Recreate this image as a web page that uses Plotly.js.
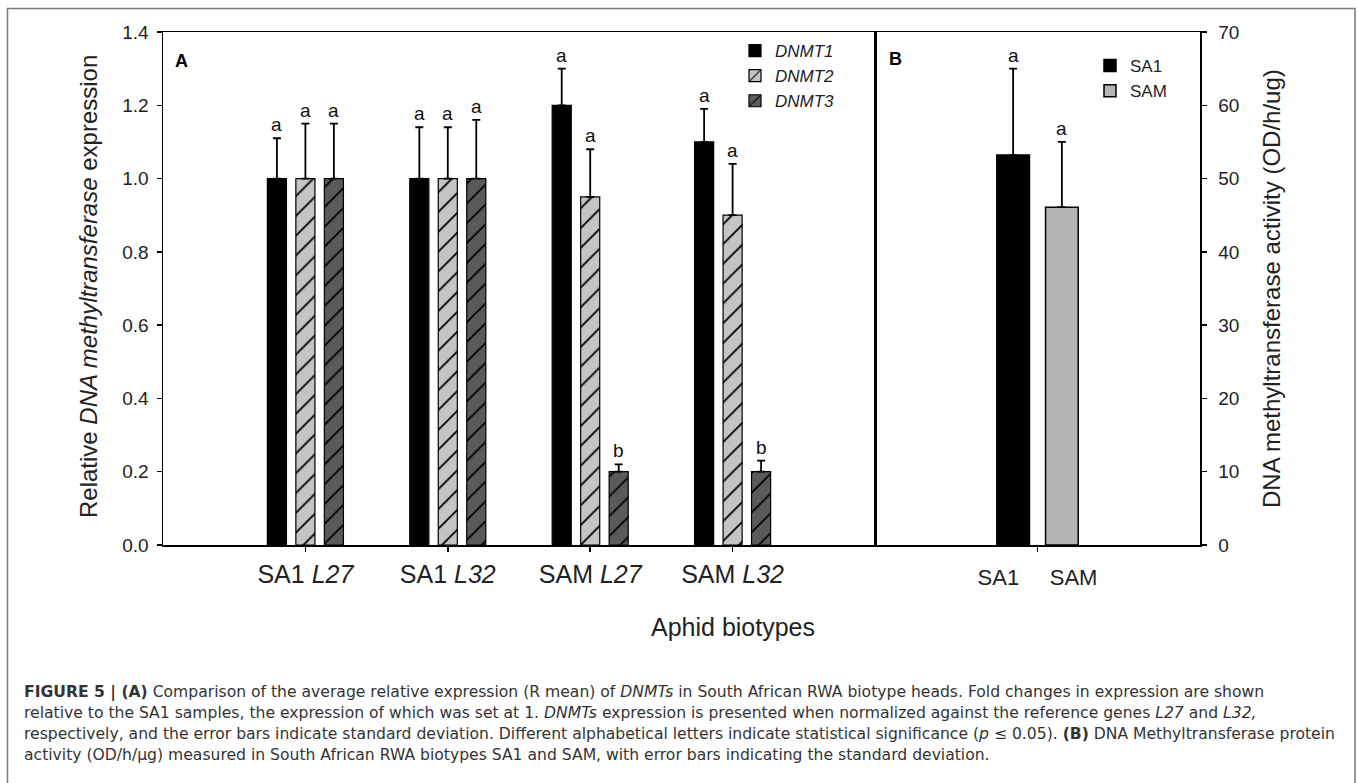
<!DOCTYPE html>
<html>
<head>
<meta charset="utf-8">
<script src="https://cdn.plot.ly/plotly-3.0.1.min.js"></script>
<style>
  html, body { margin: 0; padding: 0; background: #ffffff; }
  #chart { width: 1358px; height: 783px; }
</style>
</head>
<body>
<div id="chart"></div>
<script>
// ---------- Data (panel A) ----------
const categories = ["SA1 L27", "SA1 L32", "SAM L27", "SAM L32"];
const categoryLabels = ["SA1 <i>L27</i>", "SA1 <i>L32</i>", "SAM <i>L27</i>", "SAM <i>L32</i>"];
const seriesNames = ["DNMT1", "DNMT2", "DNMT3"];
const dnmt1 = [1.00, 1.00, 1.20, 1.10];
const dnmt2 = [1.00, 1.00, 0.95, 0.90];
const dnmt3 = [1.00, 1.00, 0.20, 0.20];
const dnmt1Err = [0.11, 0.14, 0.10, 0.09];
const dnmt2Err = [0.15, 0.14, 0.13, 0.14];
const dnmt3Err = [0.15, 0.16, 0.02, 0.03];
const dnmt1Sig = ["a", "a", "a", "a"];
const dnmt2Sig = ["a", "a", "a", "a"];
const dnmt3Sig = ["a", "a", "b", "b"];

// ---------- Data (panel B) ----------
const activityGroups = ["SA1", "SAM"];
const activityMean = [53.2, 46.1];
const activityErr = [11.8, 8.9];
const activitySig = ["a", "a"];

// ---------- Text ----------
const yTitleA = "Relative <i>DNA methyltransferase</i> expression";
const yTitleB = "DNA methyltransferase activity (OD/h/ug)";
const xTitle = "Aphid biotypes";
const captionLines = [
  "<b>FIGURE 5 | (A)</b> Comparison of the average relative expression (R mean) of <i>DNMTs</i> in South African RWA biotype heads. Fold changes in expression are shown",
  "relative to the SA1 samples, the expression of which was set at 1. <i>DNMTs</i> expression is presented when normalized against the reference genes <i>L27</i> and <i>L32,</i>",
  "respectively, and the error bars indicate standard deviation. Different alphabetical letters indicate statistical significance (<i>p</i> \u2264 0.05). <b>(B)</b> DNA Methyltransferase protein",
  "activity (OD/h/\u00b5g) measured in South African RWA biotypes SA1 and SAM, with error bars indicating the standard deviation."
];

// ---------- Geometry / style ----------
const W = 1358, H = 783;
const px = v => v / W;
const py = v => 1 - v / H;
const FONT = "Liberation Sans, Arial, Helvetica, sans-serif";
const BARGAP = 0.4, BARGROUPGAP = 0.33;

const seriesValues = [dnmt1, dnmt2, dnmt3];
const seriesErr = [dnmt1Err, dnmt2Err, dnmt3Err];
const seriesSig = [dnmt1Sig, dnmt2Sig, dnmt3Sig];
const seriesFill = ["#000000", "#c4c4c4", "#5a5a5a"];
const seriesPattern = ["", "/", "/"];

const traces = [];
seriesNames.forEach((name, s) => {
  traces.push({
    type: "bar",
    name: "<i>" + name + "</i>",
    x: categories,
    y: seriesValues[s],
    xaxis: "x", yaxis: "y",
    legend: "legend",
    marker: {
      color: seriesFill[s],
      line: { color: "#000000", width: 1.2 },
      pattern: { shape: seriesPattern[s], fgcolor: "#000000", bgcolor: seriesFill[s], size: 14, solidity: 0.13 }
    },
    error_y: {
      type: "data", symmetric: false,
      array: seriesErr[s], arrayminus: seriesErr[s].map(() => 0),
      color: "#000000", thickness: 1.8, width: 4
    },
    hoverinfo: "skip"
  });
});

const bCategory = activityGroups.join("\u00a0\u00a0\u00a0\u00a0\u00a0");
const activityFill = ["#000000", "#b4b4b4"];
activityGroups.forEach((g, k) => {
  traces.push({
    type: "bar",
    name: g,
    x: [bCategory],
    y: [activityMean[k]],
    xaxis: "x2", yaxis: "y2",
    legend: "legend2",
    marker: { color: activityFill[k], line: { color: "#000000", width: 1.5 } },
    error_y: {
      type: "data", symmetric: false,
      array: [activityErr[k]], arrayminus: [0],
      color: "#000000", thickness: 1.8, width: 4
    },
    hoverinfo: "skip"
  });
});

// significance letters, placed on the category scale with the group offsets
const annotations = [];
const slotA = (1 - BARGAP) / seriesNames.length;
seriesNames.forEach((name, s) => {
  categories.forEach((c, i) => {
    annotations.push({
      xref: "x", yref: "y",
      x: i + (s - (seriesNames.length - 1) / 2) * slotA,
      y: seriesValues[s][i] + seriesErr[s][i],
      text: seriesSig[s][i], showarrow: false,
      yanchor: "bottom", yshift: 1,
      font: { family: FONT, size: 19, color: "#111" }
    });
  });
});
const slotB = (1 - BARGAP) / activityGroups.length;
activityGroups.forEach((g, k) => {
  annotations.push({
    xref: "x2", yref: "y2",
    x: 0 + (k - (activityGroups.length - 1) / 2) * slotB,
    y: activityMean[k] + activityErr[k],
    text: activitySig[k], showarrow: false,
    yanchor: "bottom", yshift: 1,
    font: { family: FONT, size: 19, color: "#111" }
  });
});

// panel letters
annotations.push({ xref: "paper", yref: "paper", x: px(173), y: py(61), xanchor: "left", yanchor: "middle",
  text: "<b>A</b>", showarrow: false, font: { family: FONT, size: 18, color: "#000" } });
annotations.push({ xref: "paper", yref: "paper", x: px(887), y: py(59), xanchor: "left", yanchor: "middle",
  text: "<b>B</b>", showarrow: false, font: { family: FONT, size: 18, color: "#000" } });

// axis titles
annotations.push({ xref: "paper", yref: "paper", x: px(88), y: py(287), xanchor: "center", yanchor: "middle",
  textangle: -90, text: yTitleA, showarrow: false, font: { family: FONT, size: 24, color: "#222" } });
annotations.push({ xref: "paper", yref: "paper", x: px(1272), y: py(289), xanchor: "center", yanchor: "middle",
  textangle: -90, text: yTitleB, showarrow: false, font: { family: FONT, size: 24, color: "#222" } });
annotations.push({ xref: "paper", yref: "paper", x: px(733), y: py(627), xanchor: "center", yanchor: "middle",
  text: xTitle, showarrow: false, font: { family: FONT, size: 25, color: "#222" } });

// caption
const captionY = [692, 713, 734, 755];
captionLines.forEach((t, j) => {
  annotations.push({ xref: "paper", yref: "paper", x: px(22), y: py(captionY[j]), xanchor: "left", yanchor: "middle",
    text: t, showarrow: false, font: { family: "DejaVu Sans, sans-serif", size: 15.6, color: "#333" } });
});

const axisCommon = {
  showline: true, linecolor: "#000", linewidth: 1.5, mirror: true,
  showgrid: false, zeroline: false,
  ticks: "outside", ticklen: 5, tickwidth: 1.5, tickcolor: "#000"
};

const layout = {
  width: W, height: H,
  margin: { l: 0, r: 0, t: 0, b: 0 },
  paper_bgcolor: "#ffffff", plot_bgcolor: "#ffffff",
  barmode: "group", bargap: BARGAP, bargroupgap: BARGROUPGAP,
  showlegend: true,
  xaxis: Object.assign({}, axisCommon, {
    domain: [px(163), px(875)], anchor: "y", type: "category",
    range: [-1, 4], tickvals: categories, ticktext: categoryLabels,
    tickfont: { family: FONT, size: 25, color: "#222" }, ticklabelstandoff: 1
  }),
  yaxis: Object.assign({}, axisCommon, {
    domain: [py(545), py(32)], anchor: "x",
    range: [0, 1.4], dtick: 0.2, tick0: 0, tickformat: ".1f",
    tickfont: { family: FONT, size: 19, color: "#222" }, ticklabelstandoff: 4
  }),
  xaxis2: Object.assign({}, axisCommon, {
    domain: [px(875), px(1200)], anchor: "y2", type: "category",
    range: [-1, 1],
    tickfont: { family: FONT, size: 22, color: "#222" }, ticklabelstandoff: 7
  }),
  yaxis2: Object.assign({}, axisCommon, {
    domain: [py(545), py(32)], anchor: "x2", side: "right",
    range: [0, 70], dtick: 10, tick0: 0,
    tickfont: { family: FONT, size: 19, color: "#222" }, ticklabelstandoff: 8
  }),
  legend: {
    x: px(735), y: py(33), xanchor: "left", yanchor: "top",
    bgcolor: "rgba(0,0,0,0)", borderwidth: 0, tracegroupgap: 0,
    font: { family: FONT, size: 17, color: "#222" }
  },
  legend2: {
    x: px(1090), y: py(48), xanchor: "left", yanchor: "top",
    bgcolor: "rgba(0,0,0,0)", borderwidth: 0, tracegroupgap: 0,
    font: { family: FONT, size: 17, color: "#222" }
  },
  annotations: annotations,
  shapes: [{
    type: "rect", xref: "paper", yref: "paper",
    x0: px(7.5), x1: px(1355), y0: -0.05, y1: py(8.5),
    line: { color: "#7a7a7a", width: 1.5 }, fillcolor: "rgba(0,0,0,0)", layer: "above"
  }]
};

Plotly.newPlot("chart", traces, layout, { displayModeBar: false, staticPlot: true });
</script>
</body>
</html>
